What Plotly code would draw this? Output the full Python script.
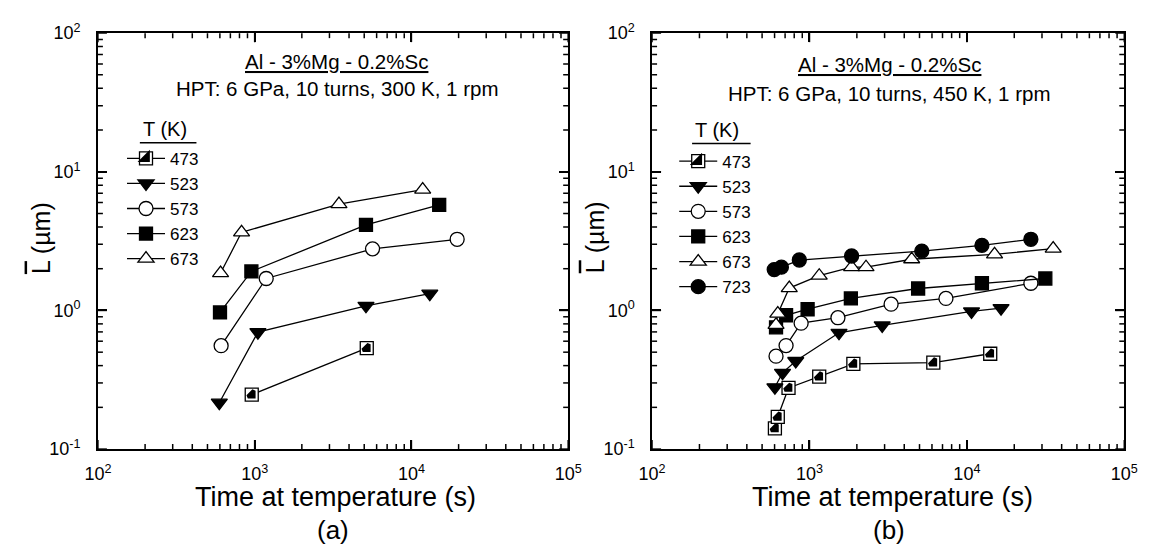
import plotly.graph_objects as go

# ---------------- data: panel (a)  HPT at 300 K ----------------
a_t473 = [958, 5190]
a_L473 = [0.247, 0.534]
a_t523 = [595, 1049, 5130, 13100]
a_L523 = [0.216, 0.697, 1.08, 1.32]
a_t573 = [611, 1185, 5650, 19580]
a_L573 = [0.557, 1.70, 2.78, 3.26]
a_t623 = [601, 953, 5130, 15040]
a_L623 = [0.968, 1.91, 4.14, 5.78]
a_t673 = [606, 825, 3450, 11800]
a_L673 = [1.86, 3.66, 5.85, 7.43]

# ---------------- data: panel (b)  HPT at 450 K ----------------
b_t473 = [603, 629, 736, 1153, 1900, 6120, 14070]
b_L473 = [0.141, 0.171, 0.276, 0.333, 0.412, 0.421, 0.487]
b_t523 = [603, 674, 818, 1540, 2897, 10700, 16480]
b_L523 = [0.279, 0.355, 0.432, 0.690, 0.780, 0.984, 1.04]
b_t573 = [613, 710, 885, 1516, 3300, 7360, 25500]
b_L573 = [0.468, 0.558, 0.809, 0.886, 1.11, 1.22, 1.57]
b_t623 = [613, 710, 973, 1832, 4900, 12460, 31500]
b_L623 = [0.755, 0.923, 1.02, 1.22, 1.44, 1.57, 1.70]
b_t673 = [613, 629, 744, 1153, 1852, 2286, 4460, 14990, 35340]
b_L673 = [0.787, 0.948, 1.45, 1.78, 2.05, 2.05, 2.34, 2.54, 2.79]
b_t723 = [597, 663, 862, 1852, 5170, 12460, 25500]
b_L723 = [1.97, 2.05, 2.31, 2.47, 2.68, 2.95, 3.26]

x_tick_vals = [100, 1000, 10000, 100000]
x_tick_text = ["10<sup>2</sup>", "10<sup>3</sup>", "10<sup>4</sup>", "10<sup>5</sup>"]
y_tick_vals = [0.1, 1, 10, 100]
y_tick_text = ["10<sup>-1</sup>", "10<sup>0</sup>", "10<sup>1</sup>", "10<sup>2</sup>"]
x_minor_vals = [m * d for d in (100, 1000, 10000) for m in range(2, 10)]
y_minor_vals = [round(m * d, 3) for d in (0.1, 1, 10) for m in range(2, 10)]

panel_title = "Al - 3%Mg - 0.2%Sc"
panel_a_sub = "HPT: 6 GPa, 10 turns, 300 K, 1 rpm"
panel_b_sub = "HPT: 6 GPa, 10 turns, 450 K, 1 rpm"
x_title = "Time at temperature (s)"
y_title = "<span style='text-decoration:overline'>L</span> (\u00b5m)"
legend_title = "T (K)"

# ---------------- layout helpers ----------------
W, H = 1150, 559
FONT = "Liberation Sans, Arial, Helvetica, sans-serif"


def fx(p):
    return p / W


def fy(p):
    return 1 - p / H


LW = 1.3
STY = {
    "473": dict(symbol="square", size=13, color="white"),
    "523": dict(symbol="triangle-down", size=14, color="black"),
    "573": dict(symbol="circle", size=14, color="white"),
    "623": dict(symbol="square", size=13, color="black"),
    "673": dict(symbol="triangle-up", size=14, color="white"),
    "723": dict(symbol="circle", size=14, color="black"),
}

# black lower-right half of the 473 square: corner triangle whose stroke
# offset fills the half below the diagonal of the outlined square
HALF_R = (STY["473"]["size"] / 2 + LW / 2) / 2.1657
HALF_SIZE = 2 * HALF_R
HALF_STROKE = 1.1314 * HALF_R

fig = go.Figure()


def add_series(name, t, L, xa, ya, leg):
    s = STY[name]
    fig.add_trace(go.Scatter(
        x=t, y=L, mode="lines+markers", name=name,
        xaxis=xa, yaxis=ya, legend=leg,
        line=dict(color="black", width=LW),
        marker=dict(symbol=s["symbol"], size=s["size"], color=s["color"],
                    line=dict(color="black", width=LW)),
        hoverinfo="skip",
    ))


def add_half(t, L, xa, ya, leg):
    fig.add_trace(go.Scatter(
        x=t, y=L, mode="markers", name=" ",
        xaxis=xa, yaxis=ya, legend=leg,
        marker=dict(symbol="triangle-se", size=HALF_SIZE, color="black",
                    line=dict(color="black", width=HALF_STROKE)),
        hoverinfo="skip",
    ))


add_series("473", a_t473, a_L473, "x", "y", "legend")
add_series("523", a_t523, a_L523, "x", "y", "legend")
add_series("573", a_t573, a_L573, "x", "y", "legend")
add_series("623", a_t623, a_L623, "x", "y", "legend")
add_series("673", a_t673, a_L673, "x", "y", "legend")
add_half(a_t473, a_L473, "x", "y", "legend3")

add_series("473", b_t473, b_L473, "x2", "y2", "legend2")
add_series("523", b_t523, b_L523, "x2", "y2", "legend2")
add_series("573", b_t573, b_L573, "x2", "y2", "legend2")
add_series("623", b_t623, b_L623, "x2", "y2", "legend2")
add_series("673", b_t673, b_L673, "x2", "y2", "legend2")
add_series("723", b_t723, b_L723, "x2", "y2", "legend2")
add_half(b_t473, b_L473, "x2", "y2", "legend4")

tickfont = dict(family=FONT, size=18, color="black")
AX_COMMON = dict(showline=True, linecolor="black", linewidth=1.6, mirror="ticks",
                 ticks="inside", tickwidth=1.5, tickcolor="black",
                 showgrid=False, zeroline=False)


def xaxis(dom, anchor):
    return dict(type="log", range=[2, 5], domain=dom, anchor=anchor,
                ticklen=9, tickmode="array",
                tickvals=x_tick_vals, ticktext=x_tick_text, tickfont=tickfont,
                ticklabelstandoff=8, **AX_COMMON)


def yaxis(dom, anchor):
    return dict(type="log", range=[-1, 2], domain=dom, anchor=anchor,
                ticklen=9, tickmode="array",
                tickvals=y_tick_vals, ticktext=y_tick_text, tickfont=tickfont,
                ticklabelstandoff=12, **AX_COMMON)


ydom = [fy(455), fy(22)]
xdom_a = [fx(86), fx(568)]
xdom_b = [fx(654), fx(1138)]

legfont = dict(family=FONT, size=17, color="black")


def leg(xp, yp):
    return dict(x=fx(xp), y=fy(yp), xanchor="left", yanchor="top",
                bgcolor="rgba(0,0,0,0)", borderwidth=0, font=legfont,
                tracegroupgap=0, itemwidth=38, traceorder="normal")


def ann(text, xp, yp, size, **kw):
    d = dict(text=text, x=fx(xp), y=fy(yp), xref="paper", yref="paper",
             xanchor="center", yanchor="middle", showarrow=False,
             font=dict(family=FONT, size=size, color="black"))
    d.update(kw)
    return d


annotations = [
    ann("<u>" + panel_title + "</u>", 331, 52, 20.5),
    ann(panel_a_sub, 331, 80, 20.5),
    ann(legend_title, 155, 122, 20),
    ann(x_title, 330, 505, 27),
    ann("(a)", 327, 539, 26),
    ann(y_title, 27, 235, 25, textangle=-90),
    ann("<u>" + panel_title + "</u>", 897, 55, 20.5),
    ann(panel_b_sub, 897, 85, 20.5),
    ann(legend_title, 721, 123, 20),
    ann(x_title, 900, 505, 27),
    ann("(b)", 897, 539, 26),
    ann(y_title, 595, 235, 25, textangle=-90),
]

shapes = [
    dict(type="line", xref="paper", yref="paper", x0=fx(129), x1=fx(187),
         y0=fy(136), y1=fy(136), line=dict(color="black", width=1.5)),
    dict(type="line", xref="paper", yref="paper", x0=fx(695), x1=fx(755),
         y0=fy(137), y1=fy(137), line=dict(color="black", width=1.5)),
]

# inside tick marks on all four sides (major long, minor short),
# placed at the axis values through the axes themselves
TICK_LINE = dict(color="black", width=1.5)
MAJ_LEN, MIN_LEN = 9, 5


def add_ticks(xa, ya):
    for vals, ln in ((x_tick_vals, MAJ_LEN), (x_minor_vals, MIN_LEN)):
        for v in vals:
            for anc, sgn in ((0, 1), (1, -1)):
                shapes.append(dict(type="line", xref=xa, yref=ya + " domain",
                                   ysizemode="pixel", yanchor=anc,
                                   x0=v, x1=v, y0=0, y1=sgn * ln,
                                   line=TICK_LINE, layer="above"))
    for vals, ln in ((y_tick_vals, MAJ_LEN), (y_minor_vals, MIN_LEN)):
        for v in vals:
            for anc, sgn in ((0, 1), (1, -1)):
                shapes.append(dict(type="line", xref=xa + " domain", yref=ya,
                                   xsizemode="pixel", xanchor=anc,
                                   y0=v, y1=v, x0=0, x1=sgn * ln,
                                   line=TICK_LINE, layer="above"))


add_ticks("x", "y")
add_ticks("x2", "y2")

fig.update_layout(
    width=W, height=H,
    margin=dict(l=0, r=0, t=0, b=0),
    paper_bgcolor="white", plot_bgcolor="white",
    font=dict(family=FONT, color="black"),
    xaxis=xaxis(xdom_a, "y"),
    yaxis=yaxis(ydom, "x"),
    xaxis2=xaxis(xdom_b, "y2"),
    yaxis2=yaxis(ydom, "x2"),
    showlegend=True,
    legend=leg(110.7, 134),
    legend3=leg(110.7, 134),
    legend2=leg(676.7, 137),
    legend4=leg(676.7, 137),
    annotations=annotations,
    shapes=shapes,
)

fig.write_html("out.html", config={"displayModeBar": False},
               post_script="document.body.style.margin='0px';")
